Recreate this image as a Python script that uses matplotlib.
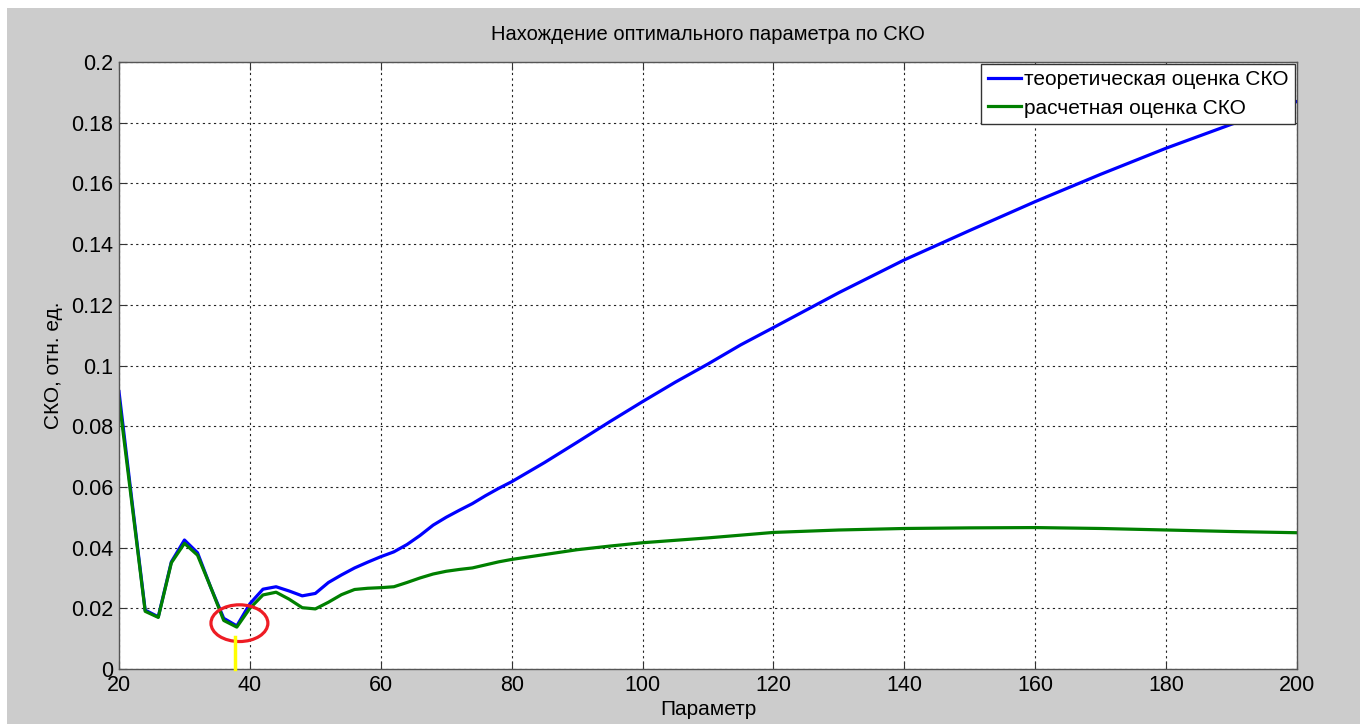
import matplotlib.pyplot as plt
import numpy as np
from matplotlib.patches import Ellipse, Rectangle
from matplotlib.ticker import FormatStrFormatter

plt.rcParams['font.family'] = ['Liberation Sans', 'DejaVu Sans']

# данные
param = [20, 22, 24, 26, 28, 30, 32, 34, 36, 38, 40, 42, 44, 46, 48, 50, 52, 54, 56, 58,
         60, 62, 64, 66, 68, 70, 72, 74, 76, 78, 80, 85, 90, 95, 100, 105, 110, 115, 120,
         130, 140, 150, 160, 170, 180, 190, 200]
sko_theor = [0.0914, 0.055, 0.0194, 0.0172, 0.0353, 0.0425, 0.0383, 0.027, 0.0167, 0.0142,
             0.0215, 0.0263, 0.0271, 0.0257, 0.0241, 0.0249, 0.0285, 0.031, 0.0333, 0.0352,
             0.037, 0.0386, 0.041, 0.044, 0.0474, 0.050, 0.0523, 0.0545, 0.0571, 0.0595,
             0.0617, 0.068, 0.0747, 0.0815, 0.0881, 0.0945, 0.1005, 0.1068, 0.1125,
             0.124, 0.1348, 0.1445, 0.154, 0.163, 0.1716, 0.1795, 0.187]
sko_calc = [0.089, 0.054, 0.019, 0.017, 0.035, 0.0414, 0.0375, 0.027, 0.016, 0.0138,
            0.020, 0.0244, 0.0253, 0.023, 0.0202, 0.0198, 0.022, 0.0245, 0.0262, 0.0266,
            0.0268, 0.0271, 0.0285, 0.030, 0.0313, 0.0322, 0.0328, 0.0333, 0.0343, 0.0353,
            0.0361, 0.0377, 0.0393, 0.0405, 0.0416, 0.0424, 0.0432, 0.0441, 0.045,
            0.0458, 0.0463, 0.0465, 0.0466, 0.0463, 0.0458, 0.0453, 0.0449]

# отметка минимума
opt_x = 37.7
opt_mark_top = 0.0106
ell_center = (38.4, 0.0151)
ell_w, ell_h = 8.7, 0.0121

fig = plt.figure(figsize=(13.7, 7.24), dpi=100, facecolor='white')
# серый фон окна
fig.patches.append(Rectangle((7 / 1370, 0), 1353 / 1370, 716 / 724,
                             transform=fig.transFigure, facecolor='#cccccc',
                             edgecolor='none', zorder=-10))

ax = fig.add_axes([119 / 1370, 55 / 724, 1178 / 1370, 607 / 724])
ax.set_facecolor('white')

ax.plot(param, sko_theor, color='#0000ff', lw=2.3, label='теоретическая оценка СКО')
ax.plot(param, sko_calc, color='#008000', lw=2.3, label='расчетная оценка СКО')

ax.add_patch(Ellipse(ell_center, ell_w, ell_h, fill=False, edgecolor='#ee1c24', lw=2.3, zorder=5))
ax.plot([opt_x, opt_x], [0, opt_mark_top], color='#ffff00', lw=2.5, zorder=5, clip_on=False)

ax.set_xlim(20, 200)
ax.set_ylim(0, 0.2)
ax.set_xticks(np.arange(20, 201, 20))
ax.set_yticks(np.arange(0, 0.2001, 0.02))
ax.yaxis.set_major_formatter(FormatStrFormatter('%g'))
ax.tick_params(direction='in', top=True, right=True, length=6, width=0.8,
               labelsize=15.5, color='#333333', pad=4)
ax.grid(True, linestyle=(0, (2, 3)), color='#222222', lw=0.8)
for s in ax.spines.values():
    s.set_color('#555555')
    s.set_linewidth(1.0)

ax.set_title('Нахождение оптимального параметра по СКО', fontsize=14.5, pad=16)
ax.set_xlabel('Параметр', fontsize=15, labelpad=3)
ax.set_ylabel('СКО, отн. ед.', fontsize=15, labelpad=6)

leg = ax.legend(loc='upper right', fontsize=15, frameon=True, fancybox=False,
                framealpha=1, borderpad=0.3, handlelength=1.6, handletextpad=0.15,
                labelspacing=0.45, borderaxespad=0.1)
leg.get_frame().set_edgecolor('#333333')
leg.get_frame().set_linewidth(1.0)

fig.savefig('out.png', dpi=100, facecolor=fig.get_facecolor())
